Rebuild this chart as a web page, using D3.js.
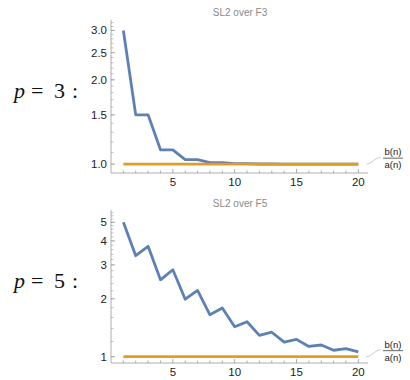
<!DOCTYPE html>
<html><head><meta charset="utf-8">
<script src="https://cdn.jsdelivr.net/npm/d3@7"></script>
<style>body{margin:0;background:#fff}svg{display:block}</style>
</head><body>
<script>
const n = d3.range(1, 21);
const ratioP3 = [3, 1.5, 1.5, 1.125, 1.125, 1.038, 1.038, 1.0125, 1.0125, 1.004, 1.004, 1.0014, 1.0014, 1.0005, 1.0005, 1.0002, 1.0002, 1.0001, 1.0001, 1.0];
const ratioP5 = [5, 3.35, 3.75, 2.51, 2.83, 1.99, 2.21, 1.65, 1.79, 1.43, 1.52, 1.29, 1.34, 1.19, 1.23, 1.13, 1.15, 1.08, 1.10, 1.06];
const baseline = n.map(() => 1);
const titles = ["SL2 over F3", "SL2 over F5"];
const pLabels = ["3", "5"];
const xTicks = [5, 10, 15, 20];
const yTicksP3 = [1.0, 1.5, 2.0, 2.5, 3.0];
const yTicksP5 = [1, 2, 3, 4, 5];

const W = 410, H = 380;
const svg = d3.select("body").append("svg").attr("width", W).attr("height", H);
const blue = "#5E81B5", orange = "#E19C24", axisC = "#999";
const sans = "Liberation Sans, Arial, sans-serif";

const panels = [
  {vals: ratioP3, ticks: yTicksP3, fmt: d3.format(".1f"), dom: [0.93, 3.27], top: 20, bot: 173,
   minor: d3.range(0.9, 3.25, 0.1), title: titles[0], p: pLabels[0], pBase: 98, titleY: 16},
  {vals: ratioP5, ticks: yTicksP5, fmt: d3.format("d"), dom: [0.927, 5.79], top: 210, bot: 363,
   minor: d3.range(0.9, 5.8, 0.1).filter(v => v < 1.01 || Math.abs(v*5 - Math.round(v*5)) < 1e-6), title: titles[1], p: pLabels[1], pBase: 288, titleY: 207}
];

const x = d3.scaleLinear().domain([0, 20.78]).range([111, 368]);

panels.forEach(P => {
  const y = d3.scaleLog().domain(P.dom).range([P.bot, P.top]);
  const g = svg.append("g");
  g.append("line").attr("x1", 111).attr("x2", 368).attr("y1", P.bot).attr("y2", P.bot).attr("stroke", axisC).attr("stroke-width", 0.8);
  g.append("line").attr("x1", 111).attr("x2", 111).attr("y1", P.top).attr("y2", P.bot).attr("stroke", axisC).attr("stroke-width", 0.8);
  n.forEach(v => {
    const major = xTicks.includes(v);
    g.append("line").attr("x1", x(v)).attr("x2", x(v)).attr("y1", P.bot).attr("y2", P.bot - (major ? 4 : 2.5)).attr("stroke", axisC).attr("stroke-width", 0.8);
  });
  xTicks.forEach(v => {
    g.append("text").attr("x", x(v)).attr("y", P.bot + 13).attr("text-anchor", "middle")
      .attr("font-family", sans).attr("font-size", 11.5).attr("fill", "#222").text(v);
  });
  P.minor.forEach(v => {
    if (v < P.dom[0] || v > P.dom[1]) return;
    g.append("line").attr("x1", 111).attr("x2", 113.5).attr("y1", y(v)).attr("y2", y(v)).attr("stroke", axisC).attr("stroke-width", 0.6);
  });
  P.ticks.forEach(v => {
    g.append("line").attr("x1", 111).attr("x2", 115).attr("y1", y(v)).attr("y2", y(v)).attr("stroke", axisC).attr("stroke-width", 0.8);
    g.append("text").attr("x", 107).attr("y", y(v) + 4).attr("text-anchor", "end")
      .attr("font-family", sans).attr("font-size", 11.5).attr("fill", "#222").text(P.fmt(v));
  });
  g.append("text").attr("x", 240).attr("y", P.titleY).attr("text-anchor", "middle")
    .attr("font-family", sans).attr("font-size", 10).attr("fill", "#8a8a8a").text(P.title);
  const line = d3.line().x((d, i) => x(n[i])).y(d => y(d));
  g.append("path").datum(P.vals).attr("d", line).attr("fill", "none").attr("stroke", blue).attr("stroke-width", 2.8).attr("stroke-linejoin", "round");
  g.append("path").datum(baseline).attr("d", line).attr("fill", "none").attr("stroke", orange).attr("stroke-width", 2.8);
  const ey = y(1);
  g.append("path").attr("d", `M${x(20)+8},${ey} C${x(20)+13},${ey} ${x(20)+16},${ey-6} ${x(20)+22},${ey-7}`)
    .attr("fill", "none").attr("stroke", "#bbb").attr("stroke-width", 0.8);
  const lx = 393, ly = ey - 6;
  g.append("line").attr("x1", lx - 10).attr("x2", lx + 10).attr("y1", ly).attr("y2", ly).attr("stroke", "#222").attr("stroke-width", 0.7);
  g.append("text").attr("x", lx).attr("y", ly - 3).attr("text-anchor", "middle")
    .attr("font-family", sans).attr("font-size", 9.5).attr("fill", "#222").text("b(n)");
  g.append("text").attr("x", lx).attr("y", ly + 10).attr("text-anchor", "middle")
    .attr("font-family", sans).attr("font-size", 9.5).attr("fill", "#222").text("a(n)");
  const t = g.append("text").attr("y", P.pBase)
    .attr("font-family", "Liberation Serif, 'DejaVu Serif', serif").attr("font-size", 22).attr("fill", "#111");
  t.append("tspan").attr("x", 14).attr("font-style", "italic").text("p");
  t.append("tspan").attr("x", 31).text("=");
  t.append("tspan").attr("x", 54).text(P.p);
  t.append("tspan").attr("x", 72).text(":");
});
</script>
</body></html>
